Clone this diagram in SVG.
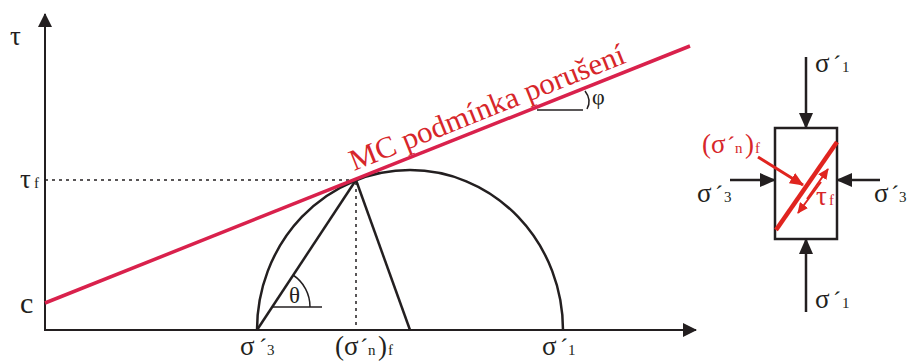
<svg xmlns="http://www.w3.org/2000/svg" width="909" height="361" viewBox="0 0 909 361">
<style>
text{font-family:"Liberation Serif","Times New Roman",Times,Tinos,"Noto Serif","DejaVu Serif",FreeSerif,serif;fill:#231F20}
.k{stroke:#231F20;fill:none}
.sub{font-size:15px}
.s{font-size:27px}
.acc{font-size:24px}
.red{fill:#D7262A}
</style>
<defs>
<marker id="ab" viewBox="0 0 16 14" refX="15" refY="7" markerWidth="16" markerHeight="14" orient="auto" markerUnits="userSpaceOnUse"><path d="M0,0L16,7L0,14z" fill="#231F20"/></marker>
<marker id="abs" viewBox="0 0 14 14" refX="13" refY="7" markerWidth="14" markerHeight="14" orient="auto" markerUnits="userSpaceOnUse"><path d="M0,0L14,7L0,14z" fill="#231F20"/></marker>
<marker id="ar" viewBox="0 0 14 12" refX="13" refY="6" markerWidth="14" markerHeight="12" orient="auto" markerUnits="userSpaceOnUse"><path d="M0,0L14,6L0,12z" fill="#E0241F"/></marker>
<marker id="ar2" viewBox="0 0 11 10" refX="10" refY="5" markerWidth="11" markerHeight="10" orient="auto" markerUnits="userSpaceOnUse"><path d="M0,0L11,5L0,10z" fill="#E0241F"/></marker>
</defs>
<g id="axes">
<line class="k" x1="45" y1="331" x2="45" y2="14" stroke-width="2" marker-end="url(#abs)"/>
<line class="k" x1="44" y1="330" x2="696" y2="330" stroke-width="2" marker-end="url(#abs)"/>
<text x="10" y="45" font-size="27">τ</text>
<text x="20" y="188" font-size="27">τ<tspan class="sub" x="34">f</tspan></text>
<text x="20" y="313" font-size="30">c</text>
</g>
<g id="mohr-circle">
<path class="k" d="M257,330A153,160 0 0 1 563,330" stroke-width="2.5"/>
<line class="k" x1="257" y1="330" x2="356" y2="180" stroke-width="2.5"/>
<line class="k" x1="356" y1="180" x2="410" y2="330" stroke-width="2.5"/>
<line class="k" x1="45" y1="180" x2="356" y2="180" stroke-width="1.5" stroke-dasharray="3 4"/>
<line class="k" x1="356" y1="182" x2="356" y2="330" stroke-width="1.5" stroke-dasharray="3 4"/>
<line class="k" x1="272" y1="307" x2="322" y2="307" stroke-width="1.5"/>
<path class="k" d="M293,275A38,38 0 0 1 310,307" stroke-width="1.5"/>
<text x="289" y="303" font-size="23">θ</text>
</g>
<g id="mc-line">
<line x1="45" y1="303" x2="690" y2="46" stroke="#D9214C" stroke-width="3.5"/>
<text class="red" transform="translate(354,171) rotate(-21.7)" font-size="30" textLength="294" lengthAdjust="spacingAndGlyphs">MC podmínka porušení</text>
<line class="k" x1="537" y1="110" x2="583" y2="110" stroke-width="1.5"/>
<path class="k" d="M585,91Q592,100 587,109" stroke-width="1.5"/>
<text x="592" y="104" font-size="22">φ</text>
</g>
<g id="axis-labels">
<text y="355"><tspan class="s" x="240">σ</tspan><tspan class="acc" x="259">´</tspan><tspan class="sub" x="267">3</tspan></text>
<text y="355"><tspan class="s" x="335">(</tspan><tspan class="s" x="344">σ</tspan><tspan class="acc" x="360">´</tspan><tspan class="sub" x="368">n</tspan><tspan class="s" x="378">)</tspan><tspan class="sub" x="388">f</tspan></text>
<text y="355"><tspan class="s" x="542">σ</tspan><tspan class="acc" x="560">´</tspan><tspan class="sub" x="568">1</tspan></text>
</g>
<g id="element">
<rect x="775" y="128" width="62" height="111" fill="none" stroke="#231F20" stroke-width="2.5"/>
<line x1="776" y1="230" x2="837" y2="142" stroke="#E0241F" stroke-width="4.5"/>
</g>
<g id="connectors">
<line class="k" x1="806" y1="57" x2="806" y2="128" stroke-width="2.5" marker-end="url(#ab)"/>
<line class="k" x1="806" y1="312" x2="806" y2="239" stroke-width="2.5" marker-end="url(#ab)"/>
<line class="k" x1="730" y1="180" x2="775" y2="180" stroke-width="2.5" marker-end="url(#ab)"/>
<line class="k" x1="880" y1="180" x2="837" y2="180" stroke-width="2.5" marker-end="url(#ab)"/>
<line x1="758" y1="157" x2="803" y2="185" stroke="#E0241F" stroke-width="3" marker-end="url(#ar)"/>
<line x1="807" y1="199" x2="828" y2="169" stroke="#E0241F" stroke-width="2" marker-end="url(#ar2)"/>
<line x1="821" y1="182" x2="798" y2="213" stroke="#E0241F" stroke-width="2" marker-end="url(#ar2)"/>
</g>
<g id="element-labels">
<text y="72"><tspan class="s" x="815">σ</tspan><tspan class="acc" x="833">´</tspan><tspan class="sub" x="842">1</tspan></text>
<text y="308"><tspan class="s" x="815">σ</tspan><tspan class="acc" x="833">´</tspan><tspan class="sub" x="842">1</tspan></text>
<text y="202"><tspan class="s" x="697">σ</tspan><tspan class="acc" x="715">´</tspan><tspan class="sub" x="724">3</tspan></text>
<text y="202"><tspan class="s" x="874">σ</tspan><tspan class="acc" x="891">´</tspan><tspan class="sub" x="899">3</tspan></text>
<text y="153" class="red"><tspan class="s" x="702">(</tspan><tspan class="s" x="711">σ</tspan><tspan class="acc" x="727">´</tspan><tspan class="sub" x="735">n</tspan><tspan class="s" x="745">)</tspan><tspan class="sub" x="755">f</tspan></text>
<text y="205" class="red"><tspan class="s" x="816">τ</tspan><tspan class="sub" x="829">f</tspan></text>
</g>
</svg>
